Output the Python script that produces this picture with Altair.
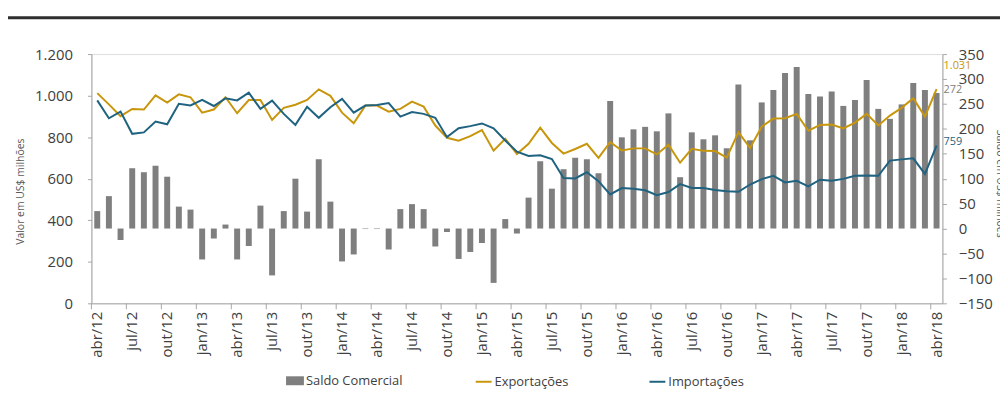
import altair as alt
import pandas as pd

FONT = "Open Sans"

abrev = ["jan", "fev", "mar", "abr", "mai", "jun", "jul", "ago", "set", "out", "nov", "dez"]
meses = []
for ano in range(12, 19):
    for m in range(12):
        if (ano == 12 and m < 3) or (ano == 18 and m > 3):
            continue
        meses.append(f"{abrev[m]}/{ano}")

exportacoes = [1012, 958, 901, 936, 933, 1001, 966, 1006, 992, 918, 933, 992, 915, 979, 979, 883,
               941, 956, 979, 1030, 999, 918, 867, 952, 952, 923, 936, 971, 947, 856, 797, 783,
               805, 834, 735, 792, 719, 768, 846, 772, 721, 743, 768, 700, 776, 736, 746, 746,
               717, 764, 677, 744, 734, 733, 701, 824, 748, 850, 890, 891, 912, 831, 859, 861,
               842, 870, 912, 856, 904, 941, 987, 899, 1031]
importacoes = [977, 891, 923, 816, 823, 875, 862, 961, 953, 980, 950, 987, 977, 1014, 936, 976,
               912, 859, 946, 893, 944, 984, 918, 952, 955, 964, 899, 921, 912, 893, 800, 843,
               853, 866, 842, 784, 730, 709, 713, 695, 603, 601, 631, 588, 524, 555, 552, 544,
               521, 536, 574, 555, 555, 546, 540, 537, 572, 598, 614, 582, 590, 563, 595, 590,
               599, 614, 615, 614, 687, 693, 698, 623, 759]
saldo = [35, 65, -23, 121, 113, 126, 104, 44, 38, -62, -20, 8, -62, -35, 46, -94,
         35, 100, 34, 139, 54, -66, -52, -1, -1, -42, 39, 49, 39, -36, -7, -61,
         -47, -29, -109, 19, -10, 62, 135, 80, 119, 142, 139, 111, 256, 183, 199, 204,
         195, 231, 103, 193, 179, 187, 161, 289, 177, 253, 278, 312, 324, 270, 265, 275,
         246, 258, 298, 240, 220, 249, 292, 278, 272]

series_nomes = ["Exportações", "Importações"]
cores_linhas = ["#C8960C", "#1F6381"]
cor_barra = "#7F7F7F"

left_ticks = [0, 200, 400, 600, 800, 1000, 1200]
right_ticks = [-150, -100, -50, 0, 50, 100, 150, 200, 250, 300, 350]
label_meses = meses[::3]


def fmt_pt(v):
    return f"{v:,}".replace(",", ".")


df_bar = pd.DataFrame({"mes": meses, "valor": saldo, "serie": "Saldo Comercial"})
df_line = pd.concat([
    pd.DataFrame({"mes": meses, "valor": exportacoes, "serie": series_nomes[0]}),
    pd.DataFrame({"mes": meses, "valor": importacoes, "serie": series_nomes[1]}),
])
df_lab_exp = pd.DataFrame({"mes": [meses[-1]], "valor": [exportacoes[-1]], "txt": [fmt_pt(exportacoes[-1])]})
df_lab_imp = pd.DataFrame({"mes": [meses[-1]], "valor": [importacoes[-1]], "txt": [fmt_pt(importacoes[-1])]})
df_lab_bar = pd.DataFrame({"mes": [meses[-1]], "valor": [saldo[-1]], "txt": [fmt_pt(saldo[-1])]})
df_xticks = pd.DataFrame({"mes": label_meses})

AXIS_GREY = "#A6A6A6"
LABEL_COL = "#404040"

x_axis = alt.Axis(values=label_meses, labelAngle=-90, labelAlign="right", labelBaseline="middle",
                  ticks=False, tickSize=0, labelPadding=8, labelFontSize=15, labelColor=LABEL_COL,
                  labelFont=FONT, domainColor=AXIS_GREY, title=None, grid=False)
x_scale = alt.Scale(domain=meses, paddingInner=0, paddingOuter=0)
x_enc = alt.X("mes:N", sort=meses, scale=x_scale, axis=x_axis)

right_scale = alt.Scale(domain=[-150, 350], nice=False)
left_scale = alt.Scale(domain=[0, 1200], nice=False)

bars = alt.Chart(df_bar).mark_bar(width=6).encode(
    x=x_enc,
    y=alt.Y("valor:Q", scale=right_scale,
            axis=alt.Axis(orient="right", values=right_ticks, grid=False, tickSize=4,
                          tickColor=AXIS_GREY, domainColor=AXIS_GREY, labelFontSize=15,
                          labelColor=LABEL_COL, labelFont=FONT, labelPadding=12,
                          title="Saldo em US$ milhões", titleAngle=90, titleX=57, titleY=130,
                          titleAlign="center", titleBaseline="middle", titleFontSize=10.5,
                          titleFontWeight="normal", titleColor="#595959", titleFont=FONT)),
    color=alt.Color("serie:N", scale=alt.Scale(domain=["Saldo Comercial"], range=[cor_barra]),
                    legend=alt.Legend(title=None, orient="none", legendX=196, legendY=320,
                                      symbolType="M-1,-0.5H1V0.5H-1Z", symbolSize=324,
                                      symbolStrokeWidth=0, labelFontSize=13, labelFont=FONT,
                                      labelColor=LABEL_COL, labelOffset=2, padding=0)),
)

bar_label = alt.Chart(df_lab_bar).mark_text(align="left", baseline="middle", dx=7, dy=-3,
                                            fontSize=11, font=FONT, color="#808080").encode(
    x=x_enc,
    y=alt.Y("valor:Q", scale=right_scale, axis=None),
    text="txt:N",
)

lines = alt.Chart(df_line).mark_line(strokeWidth=2).encode(
    x=x_enc,
    y=alt.Y("valor:Q", scale=left_scale,
            axis=alt.Axis(orient="left", values=left_ticks, grid=False, tickSize=4,
                          tickColor=AXIS_GREY, domainColor=AXIS_GREY, labelFontSize=15,
                          labelColor=LABEL_COL, labelFont=FONT, labelPadding=15,
                          labelExpr="replace(format(datum.value, ',d'), ',', '.')",
                          title="Valor em US$ milhões", titleAngle=-90, titleX=-71, titleY=138,
                          titleAlign="center", titleBaseline="middle", titleFontSize=10.5,
                          titleFontWeight="normal", titleColor="#595959", titleFont=FONT)),
    stroke=alt.Stroke("serie:N", scale=alt.Scale(domain=series_nomes, range=cores_linhas),
                      legend=alt.Legend(title=None, orient="none", direction="horizontal",
                                        legendX=386, legendY=321, symbolType="stroke",
                                        symbolSize=256, symbolStrokeWidth=2, labelFontSize=13,
                                        labelFont=FONT, labelColor=LABEL_COL, labelOffset=2,
                                        columnPadding=77, padding=0)),
)

exp_label = alt.Chart(df_lab_exp).mark_text(align="left", baseline="middle", dx=7, dy=-23,
                                            fontSize=11, font=FONT, color=cores_linhas[0]).encode(
    x=x_enc,
    y=alt.Y("valor:Q", scale=left_scale, axis=None),
    text="txt:N",
)
imp_label = alt.Chart(df_lab_imp).mark_text(align="left", baseline="middle", dx=7, dy=-4,
                                            fontSize=11, font=FONT, color=cores_linhas[1]).encode(
    x=x_enc,
    y=alt.Y("valor:Q", scale=left_scale, axis=None),
    text="txt:N",
)

xticks = alt.Chart(df_xticks).mark_rule(color=AXIS_GREY, strokeWidth=1).encode(
    x=alt.X("mes:N", sort=meses, scale=x_scale, axis=x_axis, bandPosition=0),
    y=alt.value(251),
    y2=alt.value(257),
)

top_rule = alt.Chart(pd.DataFrame({"k": [0]})).mark_rule(color="#2E2E2E", strokeWidth=3).encode(
    x=alt.value(-86), x2=alt.value(930), y=alt.value(-36.5),
)

chart = alt.layer(bars, bar_label, lines, exp_label, imp_label, xticks, top_rule).resolve_scale(
    y="independent", color="independent"
).properties(
    width=857, height=251,
    autosize=alt.AutoSizeParams(type="none"),
    padding={"left": 84, "top": 45, "right": 58, "bottom": 100},
).configure_view(stroke=None).configure(font=FONT)

chart.save("out.html", embed_options={"renderer": "svg", "actions": False})
